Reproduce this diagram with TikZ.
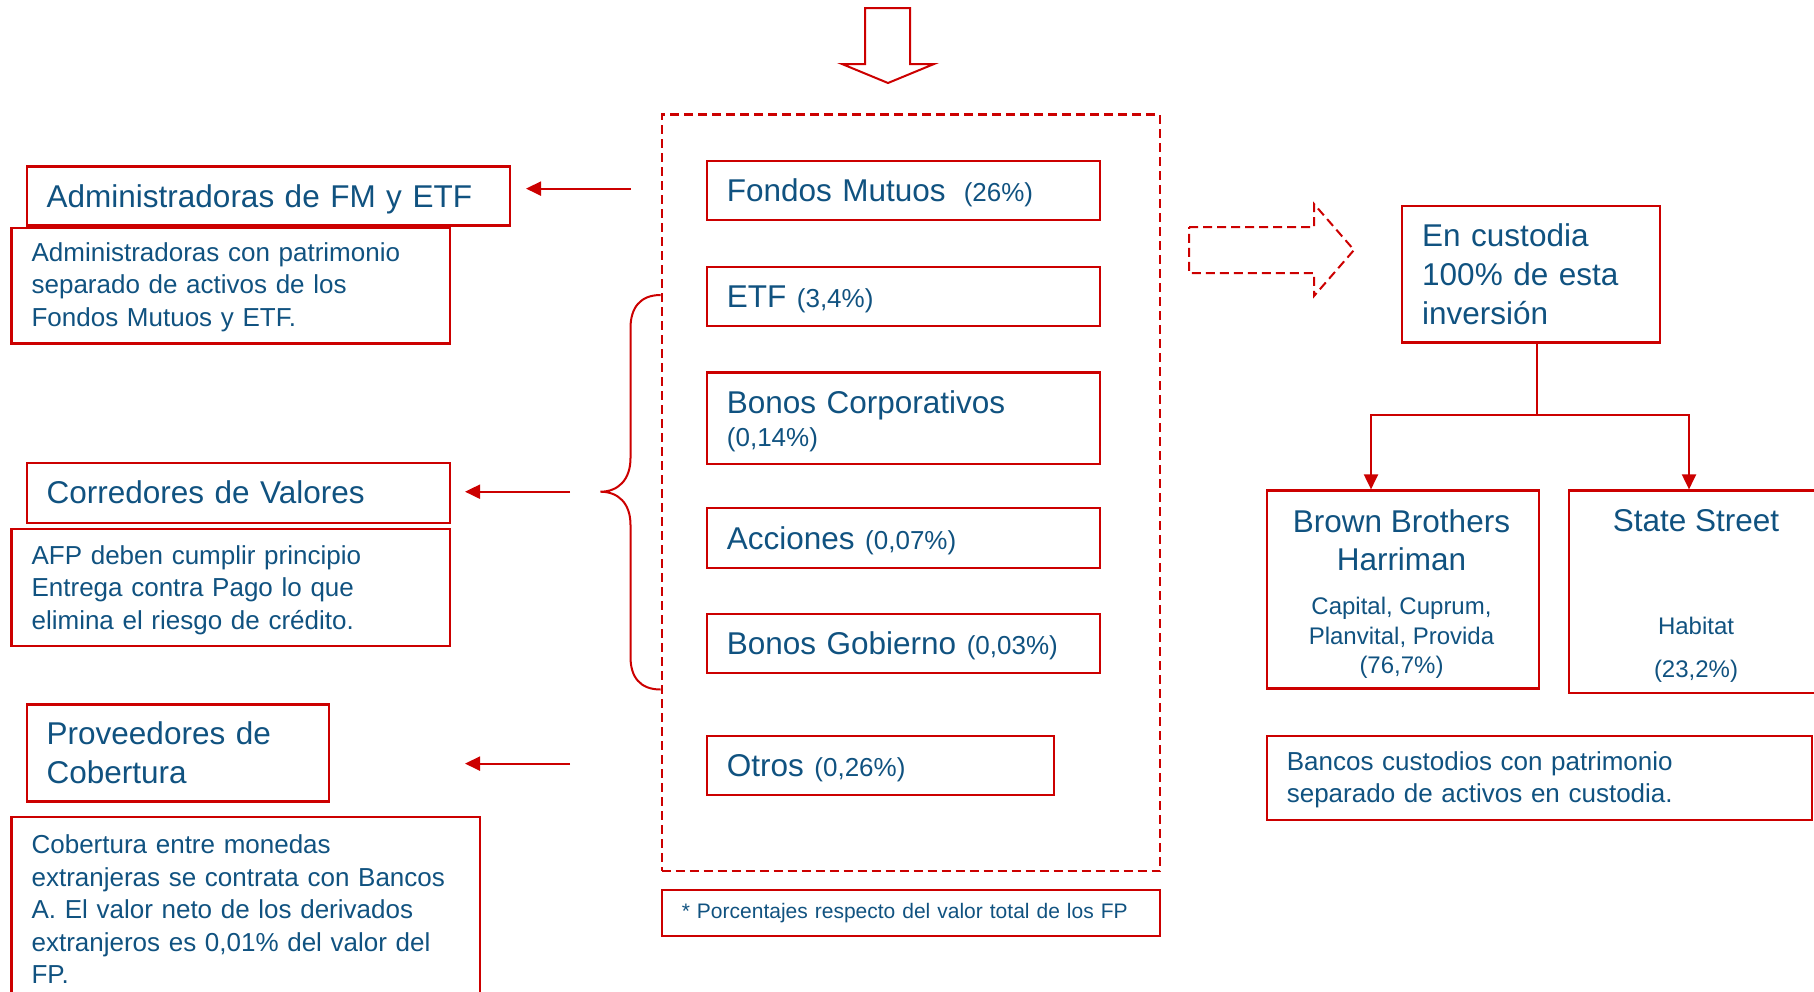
\documentclass[tikz,border=0pt]{standalone}
\usepackage{fontspec}
\setmainfont{Liberation Sans}
\usetikzlibrary{arrows.meta}

\definecolor{boxred}{RGB}{204,0,0}
\definecolor{txtblue}{RGB}{16,82,128}
\newcommand{\headfont}{\fontsize{31.5}{38.8}\selectfont}
\newcommand{\bodyfont}{\fontsize{26}{32.4}\selectfont}
\newcommand{\subfont}{\fontsize{24}{29.5}\selectfont}
\newcommand{\notefont}{\fontsize{21}{25}\selectfont}

\begin{document}
\begin{tikzpicture}[x=1pt, y=-1pt,
		oneline/.style={text height=27pt, text depth=5pt}]
	\useasboundingbox (0,0) rectangle (1814,991);
	\clip (0,0) rectangle (1814,991);
	\begin{scope}[every node/.style = {draw=boxred, line width=2.4pt, text=txtblue,
		anchor=north west, align=left, inner xsep=20pt, inner ysep=0pt}]
		% left column
		\node [oneline, text width=443.5pt, minimum height=59pt, font=\headfont] (admfm) at (25.5,165.4) {Administradoras de FM y ETF};
		\node [text height=21.5pt, text width=398.6pt, minimum height=115.6pt, font=\bodyfont] (admtxt) at (10.4,226.8) {Administradoras con patrimonio\\separado de activos de los\\Fondos Mutuos y ETF.};
		\node [oneline, text width=383.5pt, minimum height=60pt, font=\headfont] (corr) at (25.5,461.6) {Corredores de Valores};
		\node [text height=24.8pt, text width=398.6pt, minimum height=117pt, font=\bodyfont] (corrtxt) at (10.4,527.5) {AFP deben cumplir principio\\Entrega contra Pago lo que\\elimina el riesgo de crédito.};
		\node [text width=262pt, minimum height=97pt, font=\headfont] (prov) at (25.5,703.4) {Proveedores de\\Cobertura};
		\node [text width=428.6pt, minimum height=185pt, font=\bodyfont] (provtxt) at (10.4,815.6) {Cobertura entre monedas\\extranjeras se contrata con Bancos\\A. El valor neto de los derivados\\extranjeros es 0,01\% del valor del\\FP.};
		% middle column
		\node [line width=2.2pt, dash pattern=on 9pt off 5pt, minimum width=498.4pt, minimum height=756.6pt] (frame) at (660.6,113.4) {};
		\node [oneline, text width=353.3pt, minimum height=59pt, font=\headfont] (fm) at (705.7,159.7) {Fondos Mutuos\hspace{18pt}{\bodyfont(26\%)}};
		\node [oneline, text width=353.3pt, minimum height=59pt, font=\headfont] (etf) at (705.7,266) {ETF {\bodyfont(3,4\%)}};
		\node [text height=29pt, text width=353.3pt, minimum height=91.4pt, font=\headfont] (corp) at (705.7,371.4) {Bonos Corporativos\\[-6pt]\bodyfont(0,14\%)};
		\node [oneline, text width=353.3pt, minimum height=60.2pt, font=\headfont] (acc) at (705.7,506.7) {Acciones {\bodyfont(0,07\%)}};
		\node [oneline, text width=353.3pt, minimum height=59pt, font=\headfont] (gob) at (705.7,613) {Bonos Gobierno {\bodyfont(0,03\%)}};
		\node [oneline, text width=307.1pt, minimum height=59pt, font=\headfont] (otros) at (705.7,734.6) {Otros {\bodyfont(0,26\%)}};
		\node [text width=458.4pt, minimum height=46.3pt, font=\notefont] (nota) at (660.6,888.5) {* Porcentajes respecto del valor total de los FP};
		% right column
		\node [text width=218pt, minimum height=136.5pt, font=\headfont] (cust) at (1401,204.8) {En custodia\\100\% de esta\\inversión};
		\node [minimum width=271.9pt, minimum height=197.8pt] (bbh) at (1265.6,489.4) {};
		\node [minimum width=257pt, minimum height=202.4pt] (ss) at (1567.6,489.4) {};
		\node [text height=22.4pt, text width=505pt, minimum height=84.4pt, font=\bodyfont] (bancos) at (1265.6,734.6) {Bancos custodios con patrimonio\\separado de activos en custodia.};
	\end{scope}
	\begin{scope}[every node/.style = {text=txtblue, align=center}]
		\node [font=\headfont] (bbhname) at (1401.5,540.3) {Brown Brothers\\Harriman};
		\node [font=\subfont] (bbhafp) at (1401.5,637.8) {Capital, Cuprum,\\Planvital, Provida\\(76,7\%)};
		\node [font=\headfont] (ssname) at (1696,520.6) {State Street};
		\node [font=\subfont] (ssafp) at (1696,649.7) {Habitat\\[13pt](23,2\%)};
	\end{scope}
	% block arrows and brace
	\draw [boxred, line width=2pt] (865,8) -- (910,8) -- (910,64) -- (934,64) -- (888,83) -- (842,64) -- (865,64) -- cycle;
	\draw [boxred, line width=2pt, dash pattern=on 9pt off 5pt] (1189,227) -- (1314,227) -- (1314,204) -- (1354,250) -- (1314,296) -- (1314,273) -- (1189,273) -- cycle;
	\draw [boxred, line width=2pt] (660.6,295) .. controls (640,295) and (630.5,308) .. (630.5,328) -- (630.5,458)
		.. controls (630.5,480) and (618,491.7) .. (600.4,491.7)
		.. controls (618,491.7) and (630.5,503) .. (630.5,525) -- (630.5,657)
		.. controls (630.5,677) and (640,689.5) .. (660.6,689.5);
	% connectors
	\coordinate (admfrom) at (630.5,188.6);
	\coordinate (admto) at (526,188.6);
	\coordinate (corrfrom) at (570,491.7);
	\coordinate (corrto) at (465,491.7);
	\coordinate (provfrom) at (570,763.6);
	\coordinate (provto) at (465,763.6);
	\coordinate (split) at (1537,415.3);
	\coordinate (bbhin) at (1371,489.4);
	\coordinate (ssin) at (1689,489.4);
	\begin{scope}[>={Triangle[length=15pt, width=14pt]},
			every edge/.style={draw=boxred, line width=2pt}]
		\path [->] (admfrom) edge (admto);
		\path [->] (corrfrom) edge (corrto);
		\path [->] (provfrom) edge (provto);
		\draw [boxred, line width=2pt] (split |- cust.south) -- (split);
		\draw [boxred, line width=2pt, ->] (split) -| (bbhin);
		\draw [boxred, line width=2pt, ->] (split) -| (ssin);
	\end{scope}
\end{tikzpicture}
\end{document}
